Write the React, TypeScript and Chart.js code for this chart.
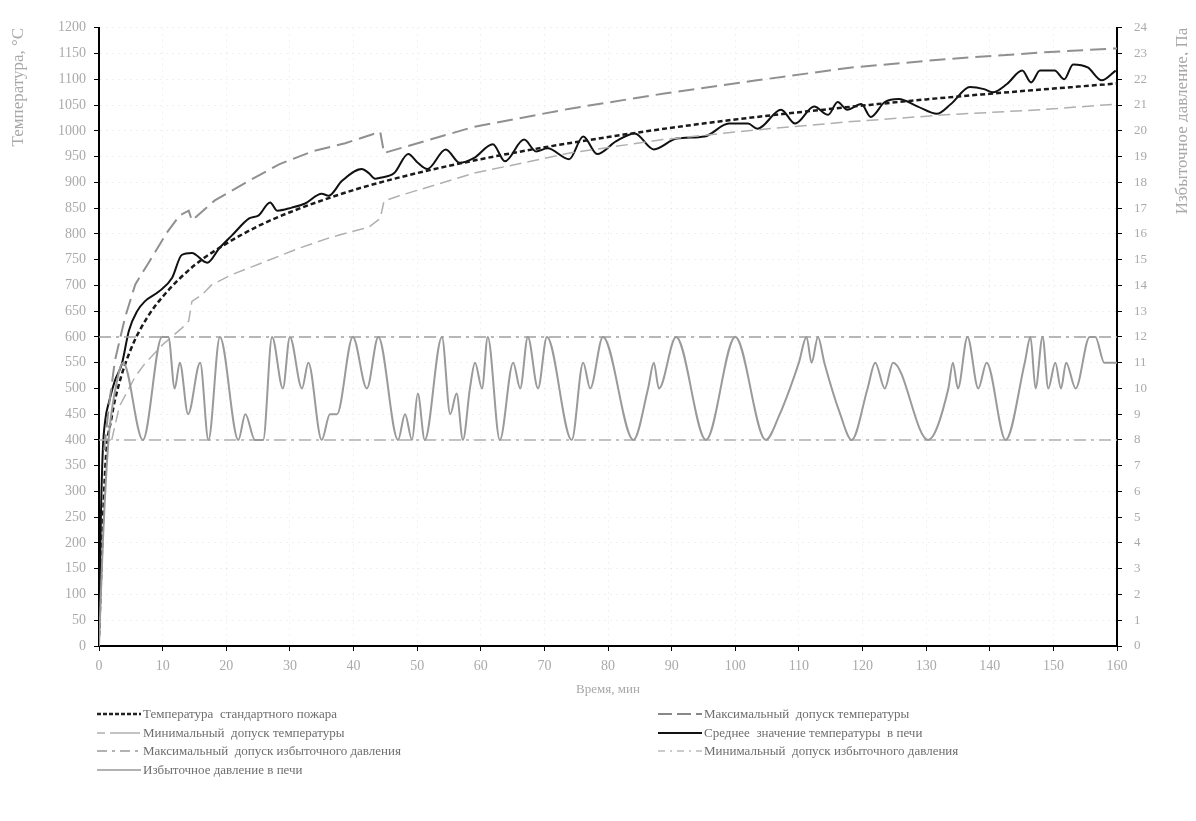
import React, { useEffect, useRef } from "react";
import { Chart, registerables } from "chart.js";

Chart.register(...registerables);

// ---------- DATA ----------
// Standard fire temperature (°C) vs time (min)
const stdTime = [0, 1, 2, 3, 5, 7.5, 10, 15, 20, 25, 30, 40, 50, 60, 70, 80, 90, 100, 110, 120, 130, 140, 150, 160];
const stdTemp = [20, 349, 445, 502, 576, 636, 678, 739, 781, 815, 842, 885, 918, 945, 968, 988, 1006, 1022, 1036, 1049, 1061, 1072, 1082, 1092];

// Maximum temperature tolerance
const maxTolTime = [0.8, 1.5, 2.5, 4.1, 5.7, 7.9, 10.7, 12.7, 14.1, 14.6, 18.2, 23, 28.3, 33.5, 38.7, 42.9, 44.2, 44.8, 59, 74, 88.6, 103.4, 118.3, 133, 148, 160];
const maxTolTemp = [380, 460, 554, 638, 702, 746, 803, 836, 845, 826, 865, 899, 935, 960, 976, 993, 998, 957, 1008, 1043, 1072, 1098, 1123, 1139, 1152, 1160];

// Minimum temperature tolerance
const minTolTime = [2, 3.2, 5.7, 7.2, 10, 13.2, 14.1, 14.6, 16.2, 17.7, 20.9, 26.1, 31.4, 36.6, 42.4, 44.2, 44.8, 47.2, 59, 74, 88.6, 103.4, 118.3, 133, 148, 160];
const minTolTemp = [400, 465, 523, 548, 585, 619, 631, 669, 682, 701, 721, 746, 772, 794, 813, 830, 864, 874, 918, 957, 983, 1002, 1018, 1031, 1041, 1052];

// Average furnace temperature
const avgTime = [0, 0.3, 0.6, 1.0, 1.6, 2.5, 3.6, 4.7, 6.0, 7.2, 9.4, 11.5, 13.0, 14.6, 17.0, 18.9, 20.9, 23.6, 25.1, 26.9, 28.0, 30.3, 32.4, 35.0, 36.1, 38.2, 41.3, 42.4, 43.4, 44.2, 46.4, 48.6, 50.1, 51.6, 54.5, 56.7, 58.9, 61.9, 63.8, 66.8, 68.7, 70.5, 73.9, 76.1, 78.3, 81.3, 84.2, 87.2, 90.8, 95.2, 99.0, 102, 103.5, 107.2, 109.4, 112.4, 114.6, 116.1, 117.6, 119.8, 121.3, 123.5, 125.7, 128.7, 131.7, 133.9, 136.9, 139.1, 140.5, 142.7, 145.1, 146.5, 147.9, 150.2, 151.7, 153.1, 155.4, 157.6, 159.8];
const avgTemp = [20, 250, 380, 440, 475, 515, 548, 612, 650, 669, 688, 715, 759, 763, 744, 772, 797, 830, 836, 861, 845, 851, 859, 878, 874, 903, 926, 918, 907, 909, 918, 955, 938, 926, 964, 938, 947, 974, 941, 983, 960, 966, 945, 989, 955, 980, 995, 964, 985, 989, 1014, 1014, 1004, 1041, 1014, 1047, 1031, 1056, 1041, 1052, 1027, 1056, 1062, 1047, 1033, 1052, 1085, 1081, 1075, 1091, 1117, 1094, 1117, 1117, 1100, 1129, 1123, 1098, 1117];

// Excess pressure in furnace (Pa)
const pressTime = [0, 0.6, 1.5, 2.6, 3.8, 6.9, 9.9, 10.9, 11.9, 12.7, 14.0, 15.9, 17.2, 19.0, 21.9, 23.0, 24.5, 25.8, 27.2, 28.9, 30.0, 31.9, 32.9, 35.0, 36.3, 37.4, 39.9, 42.1, 43.9, 47.0, 48.1, 49.2, 50.1, 51.2, 53.9, 55.2, 56.2, 57.2, 58.3, 59.1, 60.2, 61.1, 63.0, 65.1, 66.2, 67.4, 69.0, 70.4, 74.3, 76.1, 77.2, 79.2, 84.0, 86.3, 87.2, 88.0, 90.7, 95.4, 100.0, 104.8, 107.0, 108.6, 110.0, 111.2, 112.0, 113.0, 114.0, 116.5, 118.3, 120.8, 122.0, 123.5, 124.8, 130.3, 133.5, 134.2, 135.0, 136.5, 138.2, 139.5, 142.5, 145.5, 146.4, 147.2, 148.3, 149.2, 150.3, 151.2, 152.0, 153.5, 155.7, 156.6, 158.0, 160.0];
const pressVal = [0, 4, 8, 10, 11, 8, 12, 12, 10, 11, 9, 11, 8, 12, 8, 9, 8, 8, 12, 10, 12, 10, 11, 8, 9, 9, 12, 10, 12, 8, 9, 8, 9.8, 8, 12, 9, 9.8, 8, 10, 11, 10, 12, 8, 11, 10, 12, 10, 12, 8, 11, 10, 12, 8, 10, 11, 10, 12, 8, 12, 8, 9, 10, 11, 12, 11, 12, 11, 9, 8, 10, 11, 10, 11, 8, 10, 11, 10, 12, 10, 11, 8, 11, 12, 10, 12, 10, 11, 10, 11, 10, 12, 12, 11, 11];

// Pressure tolerances (Pa)
const pressTolTime = [0, 160];
const pressMaxTol = [12, 12];
const pressMinTol = [8, 8];

// Axis ranges / labels
const xMin = 0, xMax = 160, xStep = 10;
const yMin = 0, yMax = 1200, yStep = 50;
const y2Min = 0, y2Max = 24, y2Step = 1;

const yTitle = "Температура, °С";
const y2Title = "Избыточное давление, Па";
const xTitle = "Время, мин";

const legendLeft = [
  { label: "Температура  стандартного пожара", color: "#222", width: 2.5, dash: "4 2" },
  { label: "Минимальный  допуск температуры", color: "#b0b0b0", width: 1.5, dash: "8 5 22 0" },
  { label: "Максимальный  допуск избыточного давления", color: "#999", width: 1.5, dash: "10 5 3 5" },
  { label: "Избыточное давление в печи", color: "#999", width: 1.5, dash: "" },
];
const legendRight = [
  { label: "Максимальный  допуск температуры", color: "#888", width: 2, dash: "14 5" },
  { label: "Среднее  значение температуры  в печи", color: "#111", width: 2, dash: "" },
  { label: "Минимальный  допуск избыточного давления", color: "#bbb", width: 1.5, dash: "7 5 2 5" },
];

const FONT = '"Liberation Serif", "DejaVu Serif", serif';

const zip = (xs: number[], ys: number[]) => xs.map((x, i) => ({ x, y: ys[i] }));

const titlesPlugin = {
  id: "axisTitles",
  afterDraw(chart: any) {
    const ctx = chart.ctx;
    const area = chart.chartArea;
    ctx.save();
    ctx.fillStyle = "#a8a8a8";
    ctx.textBaseline = "middle";
    ctx.font = `17px ${FONT}`;
    // left title
    ctx.save();
    ctx.translate(11, area.top);
    ctx.rotate(-Math.PI / 2);
    ctx.textAlign = "right";
    ctx.fillText(yTitle, 0, 0);
    ctx.restore();
    // right title
    ctx.save();
    ctx.translate(1175, area.top);
    ctx.rotate(-Math.PI / 2);
    ctx.textAlign = "right";
    ctx.fillText(y2Title, 0, 0);
    ctx.restore();
    // x title
    ctx.font = `13px ${FONT}`;
    ctx.textAlign = "center";
    ctx.fillText(xTitle, (area.left + area.right) / 2, 682);
    ctx.restore();
  },
};

function LegendSample({ color, width, dash }: { color: string; width: number; dash: string }) {
  return (
    <svg width={44} height={10} style={{ display: "block" }}>
      <line x1={0} y1={5} x2={44} y2={5} stroke={color} strokeWidth={width} strokeDasharray={dash || undefined} />
    </svg>
  );
}

export default function App() {
  const ref = useRef<HTMLCanvasElement | null>(null);

  useEffect(() => {
    if (!ref.current) return;
    const tickFont = { family: FONT, size: 14 };
    const plain = (v: any) => String(v);
    const chart = new Chart(ref.current, {
      type: "line",
      data: {
        datasets: [
          {
            label: "Избыточное давление в печи",
            data: zip(pressTime, pressVal),
            yAxisID: "y2",
            borderColor: "#9a9a9a",
            borderWidth: 2,
            cubicInterpolationMode: "monotone",
            pointRadius: 0,
          },
          {
            label: "Максимальный  допуск избыточного давления",
            data: zip(pressTolTime, pressMaxTol),
            yAxisID: "y2",
            borderColor: "#a0a0a0",
            borderWidth: 1.5,
            borderDash: [12, 5, 3, 5],
            pointRadius: 0,
          },
          {
            label: "Минимальный  допуск избыточного давления",
            data: zip(pressTolTime, pressMinTol),
            yAxisID: "y2",
            borderColor: "#b0b0b0",
            borderWidth: 1.5,
            borderDash: [12, 5, 3, 5],
            pointRadius: 0,
          },
          {
            label: "Минимальный  допуск температуры",
            data: zip(minTolTime, minTolTemp),
            yAxisID: "y",
            borderColor: "#b0b0b0",
            borderWidth: 1.5,
            borderDash: [12, 6],
            pointRadius: 0,
          },
          {
            label: "Максимальный  допуск температуры",
            data: zip(maxTolTime, maxTolTemp),
            yAxisID: "y",
            borderColor: "#909090",
            borderWidth: 2,
            borderDash: [16, 7],
            pointRadius: 0,
          },
          {
            label: "Температура  стандартного пожара",
            data: zip(stdTime, stdTemp),
            yAxisID: "y",
            borderColor: "#1a1a1a",
            borderWidth: 2.5,
            borderDash: [5, 3],
            cubicInterpolationMode: "monotone",
            pointRadius: 0,
          },
          {
            label: "Среднее  значение температуры  в печи",
            data: zip(avgTime, avgTemp),
            yAxisID: "y",
            borderColor: "#111",
            borderWidth: 2,
            cubicInterpolationMode: "monotone",
            pointRadius: 0,
          },
        ],
      },
      options: {
        animation: false,
        responsive: false,
        layout: { padding: { top: 12, left: 0, right: 0, bottom: 0 } },
        plugins: { legend: { display: false }, tooltip: { enabled: false } },
        scales: {
          x: {
            type: "linear",
            min: xMin,
            max: xMax,
            afterFit: (s: any) => { s.height = 62; },
            ticks: { stepSize: xStep, color: "#aaa", font: tickFont, padding: 7, callback: plain },
            grid: { color: "rgba(0,0,0,0.055)", tickLength: 5, tickColor: "#000", tickWidth: 1 },
            border: { display: true, color: "#000", width: 2, dash: [2, 4] },
          },
          y: {
            position: "left",
            min: yMin,
            max: yMax,
            afterFit: (s: any) => { s.width = 91; },
            ticks: { stepSize: yStep, color: "#aaa", font: tickFont, padding: 8, callback: plain },
            grid: { color: "rgba(0,0,0,0.055)", tickLength: 5, tickColor: "#000", tickWidth: 1 },
            border: { display: true, color: "#000", width: 2, dash: [2, 4] },
          },
          y2: {
            position: "right",
            min: y2Min,
            max: y2Max,
            afterFit: (s: any) => { s.width = 71; },
            ticks: { stepSize: y2Step, color: "#aaa", font: { family: FONT, size: 13 }, padding: 12, callback: plain },
            grid: { drawOnChartArea: false, tickLength: 5, tickColor: "#000", tickWidth: 1 },
            border: { display: true, color: "#000", width: 2 },
          },
        },
      },
      plugins: [titlesPlugin],
    } as any);
    return () => chart.destroy();
  }, []);

  const rowTop = (i: number) => 697 + i * 18.7;

  return (
    <div style={{ position: "relative", width: 1180, height: 805, fontFamily: FONT }}>
      <canvas ref={ref} width={1180} height={700} style={{ position: "absolute", left: 0, top: 0 }} />
      {legendLeft.map((it, i) => (
        <div key={"l" + i} style={{ position: "absolute", left: 89, top: rowTop(i), height: 18, display: "flex", alignItems: "center", fontSize: 13, color: "#6e6e6e", whiteSpace: "pre" }}>
          <LegendSample color={it.color} width={it.width} dash={it.dash} />
          <span style={{ marginLeft: 2 }}>{it.label}</span>
        </div>
      ))}
      {legendRight.map((it, i) => (
        <div key={"r" + i} style={{ position: "absolute", left: 650, top: rowTop(i), height: 18, display: "flex", alignItems: "center", fontSize: 13, color: "#6e6e6e", whiteSpace: "pre" }}>
          <LegendSample color={it.color} width={it.width} dash={it.dash} />
          <span style={{ marginLeft: 2 }}>{it.label}</span>
        </div>
      ))}
    </div>
  );
}
